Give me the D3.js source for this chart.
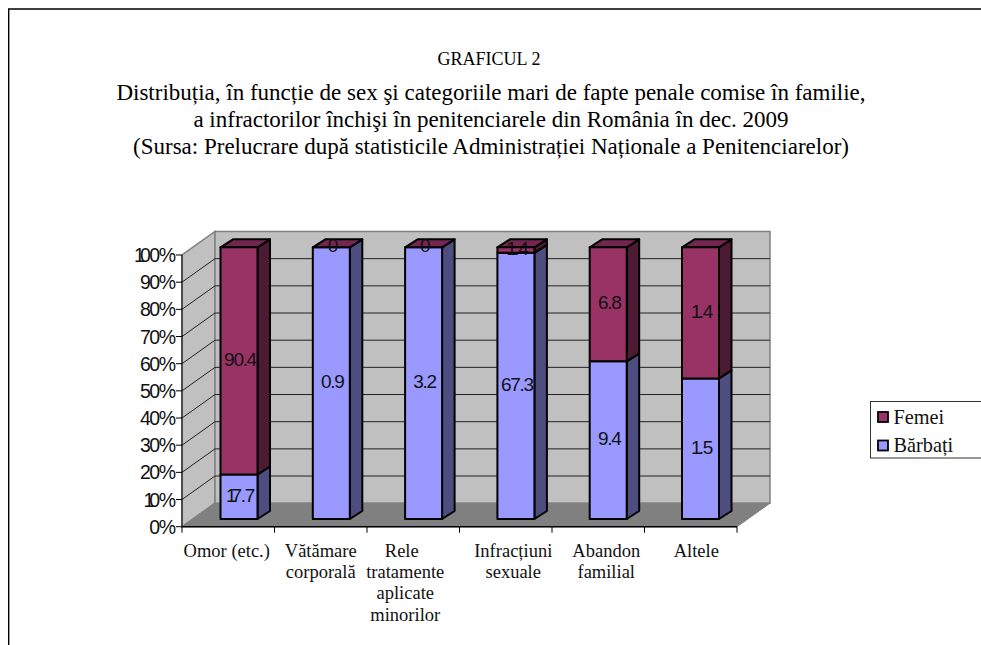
<!DOCTYPE html>
<html><head><meta charset="utf-8">
<script src="https://cdn.jsdelivr.net/npm/d3@7"></script>
<style>html,body{margin:0;padding:0;background:#fff;overflow:hidden}svg{display:block}</style>
</head><body><svg id="c" width="981" height="645"></svg>
<script>
const categories = [["Omor (etc.)"],["Vătămare","corporală"],["Rele","tratamente","aplicate","minorilor"],["Infracțiuni","sexuale"],["Abandon","familial"],["Altele"]];
const barbati = [17.7,0.9,3.2,67.3,9.4,1.5];
const femei = [90.4,0,0,1.4,6.8,1.4];
const barbatiLabels = ["17.7","0.9","3.2","67.3","9.4","1.5"];
const femeiLabels = ["90.4","0","0","1.4","6.8","1.4"];
const percentTicks = [0,10,20,30,40,50,60,70,80,90,100];
const titleLines = ["GRAFICUL 2","Distribuția, în funcție de sex şi categoriile mari de fapte penale comise în familie,","a infractorilor închişi în penitenciarele din România în dec. 2009","(Sursa: Prelucrare după statisticile Administrației Naționale a Penitenciarelor)"];
const legendItems = [{name:"Femei",c:"#993366"},{name:"Bărbați",c:"#9999ff"}];

// layout constants
const titleY = [65,100,127,154];
const titleSize = [18,23,23,23];
const catCenterNudge = [-1.5,0,-8,7.5,8,5.5];
const svg = d3.select("#c");
const serif = "'Liberation Serif','Times New Roman',serif", sans = "'Liberation Sans',Arial,sans-serif";
const x = d3.scaleBand().domain(d3.range(6)).range([182,737]).paddingInner(0).paddingOuter(0);
const y = d3.scaleLinear().domain([0,100]).range([526.7,255]);
const wallDx = 33, wallDy = -23.5, barDy = -7.7, depthX = 12.5, depthY = -8;
const pts = a => a.map(p=>p.join(",")).join(" ");

// sans text whose digit "1" overlaps the next glyph, as in the original rendering
function tightText(sel, s, spacing){
  if(s[0]==="1"){
    sel.append("tspan").attr("letter-spacing", s[1]==="." ? -2.6 : -5).text("1");
    sel.append("tspan").attr("letter-spacing",spacing).text(s.slice(1));
  } else sel.append("tspan").attr("letter-spacing",spacing).text(s);
  return sel;
}

svg.append("path").attr("d","M8.7,645V9H981").attr("fill","none").attr("stroke","#000").attr("stroke-width",1.4);
svg.selectAll(".t").data(titleLines).join("text").attr("x",(d,i)=>i==0?489:491).attr("y",(d,i)=>titleY[i])
  .attr("text-anchor","middle").attr("font-family",serif).attr("font-size",(d,i)=>titleSize[i]).text(d=>d);

const X0=x.range()[0],X1=x.range()[1],Y0=y(0),Y1=y(100);
svg.append("polygon").attr("points",pts([[X0,Y0],[X0+wallDx,Y0+wallDy],[X0+wallDx,Y1+wallDy],[X0,Y1]])).attr("fill","#c0c0c0").attr("stroke","#808080").attr("stroke-width",1.5);
svg.append("rect").attr("x",X0+wallDx).attr("y",Y1+wallDy).attr("width",X1-X0).attr("height",Y0-Y1).attr("fill","#c0c0c0").attr("stroke","#808080").attr("stroke-width",1.5);
percentTicks.slice(1,-1).forEach(v=>{
  svg.append("polyline").attr("points",pts([[X0,y(v)],[X0+wallDx,y(v)+wallDy],[X1+wallDx,y(v)+wallDy]])).attr("fill","none").attr("stroke","#222").attr("stroke-width",1);
});
svg.append("polygon").attr("points",pts([[X0,Y0],[X0+wallDx,Y0+wallDy],[X1+wallDx,Y0+wallDy],[X1,Y0]])).attr("fill","#808080").attr("stroke","#808080");

svg.append("line").attr("x1",X0).attr("x2",X1).attr("y1",Y0).attr("y2",Y0).attr("stroke","#000").attr("stroke-width",1.4);
svg.append("line").attr("x1",X0).attr("x2",X0).attr("y1",Y1).attr("y2",Y0).attr("stroke","#000");
percentTicks.forEach(v=>{
  svg.append("line").attr("x1",X0-6).attr("x2",X0).attr("y1",y(v)).attr("y2",y(v)).attr("stroke","#000");
  const t = svg.append("text").attr("x",X0-7.5).attr("y",y(v)+7).attr("text-anchor","end").attr("font-family",sans).attr("font-size",19.5).attr("fill","#111");
  tightText(t, v+"%", -1.5);
});
d3.range(7).forEach(i=>{
  const px = i<6 ? x(i) : X1;
  svg.append("line").attr("x1",px).attr("x2",px).attr("y1",Y0).attr("y2",Y0+6).attr("stroke","#000");
});
categories.forEach((lines,i)=>{
  lines.forEach((l,j)=>svg.append("text").attr("x",x(i)+x.bandwidth()/2+catCenterNudge[i]+(l==="Rele"?-3.5:0)).attr("y",557+j*21.2).attr("text-anchor","middle")
    .attr("font-family",serif).attr("font-size",18.5).attr("fill","#111").text(l));
});

const barW = 37, seg = (px,ya,yb,fill,side,top,drawTop)=>{
  const g = svg.append("g").attr("stroke","#000").attr("stroke-width",2).attr("stroke-linejoin","round");
  g.append("polygon").attr("points",pts([[px+barW,ya],[px+barW+depthX,ya+depthY],[px+barW+depthX,yb+depthY],[px+barW,yb]])).attr("fill",side);
  if(drawTop) g.append("polygon").attr("points",pts([[px,yb],[px+depthX,yb+depthY],[px+barW+depthX,yb+depthY],[px+barW,yb]])).attr("fill",top);
  g.append("rect").attr("x",px).attr("y",yb).attr("width",barW).attr("height",ya-yb).attr("fill",fill);
};
const labels = [];
barbati.forEach((b,i)=>{
  const tot = b+femei[i], pb = b/tot*100;
  const px = x(i)+38.5-i*0.2;
  const yv = v=>y(v)+barDy;
  seg(px,yv(0),yv(pb),"#9999ff","#4d4d80","#4d4d80",false);
  if(femei[i]>0) seg(px,yv(pb),yv(100),"#993366","#4d1a33","#732650",true);
  else {
    const g=svg.append("g").attr("stroke","#000").attr("stroke-width",2).attr("stroke-linejoin","round");
    g.append("polygon").attr("points",pts([[px,yv(100)],[px+depthX,yv(100)+depthY],[px+barW+depthX,yv(100)+depthY],[px+barW,yv(100)]])).attr("fill","#732650");
  }
  labels.push({x:px+barW/2+1,y:(yv(0)+yv(pb))/2+5,t:barbatiLabels[i]});
  labels.push({x:px+barW/2+1,y:(yv(pb)+yv(100))/2+5,t:femeiLabels[i]});
});
labels.forEach(l=>{
  const t = svg.append("text").attr("x",l.x).attr("y",l.y).attr("text-anchor","middle").attr("font-family",sans).attr("font-size",19).attr("fill","#111");
  tightText(t, l.t, -1.3);
});

svg.append("rect").attr("x",870.5).attr("y",401.5).attr("width",120).attr("height",56.5).attr("fill","#fff").attr("stroke","#333");
legendItems.forEach((d,i)=>{
  const ly=417+i*28.5;
  svg.append("rect").attr("x",878).attr("y",ly-5).attr("width",10).attr("height",10).attr("fill",d.c).attr("stroke","#000").attr("stroke-width",1.8);
  svg.append("text").attr("x",893.5).attr("y",ly+6.5).attr("font-family",serif).attr("font-size",20.3).attr("fill","#111").text(d.name);
});
</script></body></html>
